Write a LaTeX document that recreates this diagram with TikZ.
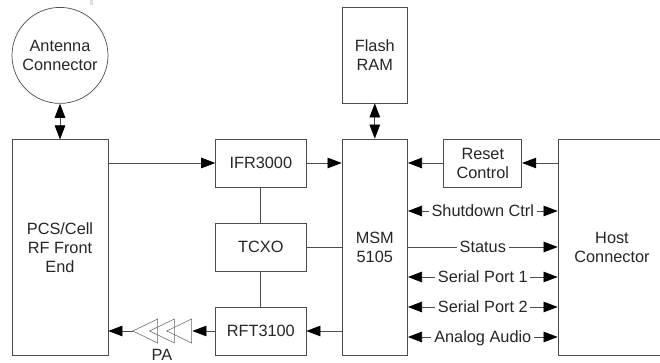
\documentclass[tikz,border=0pt]{standalone}
\usepackage{fontspec}
\setmainfont{Liberation Sans}
\usetikzlibrary{arrows.meta}

\tikzset{
  every node/.style={font=\fontsize{11.6}{13.5}\selectfont, align=center, text=black!85},
  blk/.style={draw=black!70, line width=0.5pt, rectangle, inner sep=0pt},
  sig/.style={draw=black!70, line width=0.5pt, >={Triangle[length=10pt,width=7.5pt,black]}},
  siglabel/.style={fill=white, inner sep=2pt, text height=8.5pt, text depth=0.5pt}
}

\begin{document}
\begin{tikzpicture}
\useasboundingbox (0,0) rectangle (16.5,9.075);

\fill[gray!25] (2.25,9.075) rectangle (2.33,8.96);

%blocks
\node[blk, circle, minimum size=2.4cm] (antenna) at (1.5,7.69) {Antenna\\Connector};
\node[blk, minimum width=2.4cm, minimum height=5.4cm] (rf) at (1.5,2.88) {PCS/Cell\\RF Front\\End};
\node[blk, minimum width=2.26cm, minimum height=1.2cm] (ifr) at (6.52,5) {IFR3000};
\node[blk, minimum width=2.26cm, minimum height=1.2cm] (tcxo) at (6.52,2.9) {TCXO};
\node[blk, minimum width=2.26cm, minimum height=1.2cm] (rft) at (6.52,0.8) {RFT3100};
\node[blk, minimum width=1.64cm, minimum height=5.4cm] (msm) at (9.37,2.9) {MSM\\5105};
\node[blk, minimum width=1.64cm, minimum height=2.4cm] (flash) at (9.37,7.7) {Flash\\RAM};
\node[blk, minimum width=1.95cm, minimum height=1.2cm] (reset) at (12.07,5) {Reset\\Control};
\node[blk, minimum width=2.7cm, minimum height=5.4cm] (host) at (15.3,2.9) {Host\\Connector};

%PA
\coordinate (paout) at (3.32,0.8);
\coordinate (pain) at (4.81,0.8);
\foreach \x in {3.32,3.74,4.17}
  \draw[black!60, line width=0.4pt] (\x,0.8) -- (\x+0.62,1.1) -- (\x+0.62,0.5) -- cycle;
\node[inner sep=0pt] (pa) at (4.05,0.21) {PA};

%connectors
\draw[sig,<->] (antenna.south) -- (rf.north);
\draw[sig,<->] (flash.south) -- (msm.north);
\draw[sig,->] (rf.east |- ifr.west) -- (ifr.west);
\draw[sig,->] (ifr.east) -- (msm.west |- ifr.east);
\draw[sig] (ifr.south) -- (tcxo.north);
\draw[sig] (tcxo.south) -- (rft.north);
\draw[sig] (tcxo.east) -- (msm.west |- tcxo.east);
\draw[sig,->] (msm.west |- rft.east) -- (rft.east);
\draw[sig,->] (rft.west) -- (pain);
\draw[sig,->] (paout) -- (rf.east |- paout);
\draw[sig,->] (reset.west) -- (msm.east |- reset.west);
\draw[sig,->] (host.west |- reset.east) -- (reset.east);

%host signals
\draw[sig,<->] (msm.east |- 0,3.8) -- node[siglabel] (shutdown) {Shutdown Ctrl} (host.west |- 0,3.8);
\draw[sig,->] (msm.east |- 0,2.9) -- node[siglabel] (status) {Status} (host.west |- 0,2.9);
\draw[sig,<->] (msm.east |- 0,2.15) -- node[siglabel] (serial1) {Serial Port 1} (host.west |- 0,2.15);
\draw[sig,<->] (msm.east |- 0,1.4) -- node[siglabel] (serial2) {Serial Port 2} (host.west |- 0,1.4);
\draw[sig,<->] (msm.east |- 0,0.65) -- node[siglabel] (audio) {Analog Audio} (host.west |- 0,0.65);

\end{tikzpicture}
\end{document}
